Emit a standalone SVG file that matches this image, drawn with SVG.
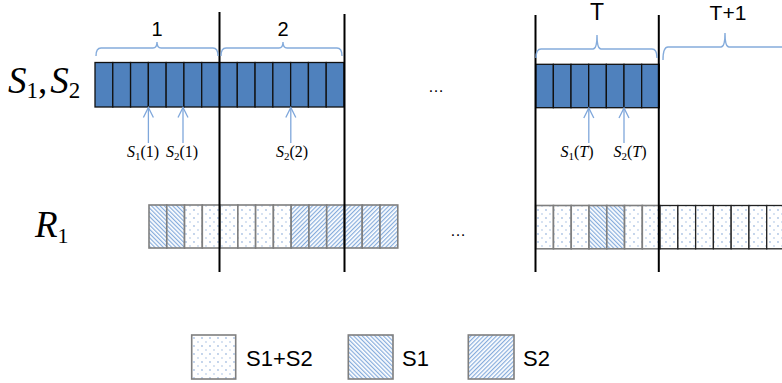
<svg xmlns="http://www.w3.org/2000/svg" width="782" height="383" viewBox="0 0 782 383">
<style>
.bg{fill:#ffffff}
.sc{fill:#4f81bd;stroke:#111;stroke-width:1.3}
.rc{stroke:#7f7f7f;stroke-width:1.6}
.rk{stroke:#222;stroke-width:1.3}
.dot{fill:url(#pDots)}
.s1{fill:url(#pS1)}
.s2{fill:url(#pS2)}
.vl{stroke:#000;stroke-width:2;fill:none}
.br{stroke:#85acdc;stroke-width:1.4;fill:none}
.ar{stroke:#7fa7db;stroke-width:1.3;fill:none;marker-end:url(#open)}
.num{font-family:"Liberation Sans",Arial,sans-serif;fill:#000;text-anchor:middle}
.math{font-family:"Liberation Serif","Times New Roman",serif;fill:#000}
.it{font-style:italic}
.leg{font-family:"Liberation Sans",Arial,sans-serif;font-size:22px;fill:#000}
.lb{stroke:#7f7f7f;stroke-width:1.6}
</style>
<defs>
<pattern id="pDots" patternUnits="userSpaceOnUse" width="8" height="8">
<rect width="8" height="8" fill="#fff"/>
<circle cx="2" cy="2" r="0.65" fill="#5b8ac8"/>
<circle cx="6" cy="6" r="0.65" fill="#8fb0dc"/>
</pattern>
<pattern id="pS1" patternUnits="userSpaceOnUse" width="3" height="3" patternTransform="rotate(-45)">
<rect width="3" height="3" fill="#fff"/>
<rect width="1.2" height="3" fill="#86acdc"/>
</pattern>
<pattern id="pS2" patternUnits="userSpaceOnUse" width="3" height="3" patternTransform="rotate(45)">
<rect width="3" height="3" fill="#fff"/>
<rect width="1.2" height="3" fill="#86acdc"/>
</pattern>
<marker id="open" markerUnits="userSpaceOnUse" markerWidth="12" markerHeight="12" refX="0" refY="0" orient="auto" overflow="visible">
<path d="M-10,-5 L0,0 L-10,5" fill="none" stroke="#7fa7db" stroke-width="1.3"/>
</marker>
</defs>
<rect class="bg" x="0" y="0" width="782" height="383"/>

<g id="s-bar-1-2">
<rect class="sc" x="95" y="62.5" width="17.79" height="44.5"/>
<rect class="sc" x="112.79" y="62.5" width="17.79" height="44.5"/>
<rect class="sc" x="130.57" y="62.5" width="17.79" height="44.5"/>
<rect class="sc" x="148.36" y="62.5" width="17.79" height="44.5"/>
<rect class="sc" x="166.14" y="62.5" width="17.79" height="44.5"/>
<rect class="sc" x="183.93" y="62.5" width="17.79" height="44.5"/>
<rect class="sc" x="201.71" y="62.5" width="17.79" height="44.5"/>
<rect class="sc" x="219.5" y="62.5" width="17.79" height="44.5"/>
<rect class="sc" x="237.29" y="62.5" width="17.79" height="44.5"/>
<rect class="sc" x="255.07" y="62.5" width="17.79" height="44.5"/>
<rect class="sc" x="272.86" y="62.5" width="17.79" height="44.5"/>
<rect class="sc" x="290.64" y="62.5" width="17.79" height="44.5"/>
<rect class="sc" x="308.43" y="62.5" width="17.79" height="44.5"/>
<rect class="sc" x="326.21" y="62.5" width="17.79" height="44.5"/>
</g>

<g id="s-bar-T">
<rect class="sc" x="535.7" y="64.3" width="17.66" height="43.4"/>
<rect class="sc" x="553.36" y="64.3" width="17.66" height="43.4"/>
<rect class="sc" x="571.02" y="64.3" width="17.66" height="43.4"/>
<rect class="sc" x="588.68" y="64.3" width="17.66" height="43.4"/>
<rect class="sc" x="606.34" y="64.3" width="17.66" height="43.4"/>
<rect class="sc" x="624" y="64.3" width="17.66" height="43.4"/>
<rect class="sc" x="641.66" y="64.3" width="17.66" height="43.4"/>
</g>

<g id="r-bar-left">
<rect class="rc s1" x="149" y="205" width="17.77" height="43"/>
<rect class="rc s1" x="166.77" y="205" width="17.77" height="43"/>
<rect class="rc dot" x="184.54" y="205" width="17.77" height="43"/>
<rect class="rc dot" x="202.31" y="205" width="17.77" height="43"/>
<rect class="rc dot" x="220.08" y="205" width="17.77" height="43"/>
<rect class="rc dot" x="237.85" y="205" width="17.77" height="43"/>
<rect class="rc dot" x="255.62" y="205" width="17.77" height="43"/>
<rect class="rc dot" x="273.39" y="205" width="17.77" height="43"/>
<rect class="rc s2" x="291.16" y="205" width="17.77" height="43"/>
<rect class="rc s2" x="308.93" y="205" width="17.77" height="43"/>
<rect class="rc s2" x="326.7" y="205" width="17.77" height="43"/>
<rect class="rc s2" x="344.47" y="205" width="17.77" height="43"/>
<rect class="rc s2" x="362.24" y="205" width="17.77" height="43"/>
<rect class="rc s2" x="380.01" y="205" width="17.77" height="43"/>
</g>

<g id="r-bar-right">
<rect class="rc dot" x="535.7" y="205.5" width="17.77" height="43.3"/>
<rect class="rc dot" x="553.47" y="205.5" width="17.77" height="43.3"/>
<rect class="rc dot" x="571.24" y="205.5" width="17.77" height="43.3"/>
<rect class="rc s1" x="589.01" y="205.5" width="17.77" height="43.3"/>
<rect class="rc s1" x="606.78" y="205.5" width="17.77" height="43.3"/>
<rect class="rc dot" x="624.55" y="205.5" width="17.77" height="43.3"/>
<rect class="rc dot" x="642.32" y="205.5" width="17.77" height="43.3"/>
<rect class="rk dot" x="660.09" y="205.5" width="17.77" height="43.3"/>
<rect class="rk dot" x="677.86" y="205.5" width="17.77" height="43.3"/>
<rect class="rk dot" x="695.63" y="205.5" width="17.77" height="43.3"/>
<rect class="rk dot" x="713.4" y="205.5" width="17.77" height="43.3"/>
<rect class="rk dot" x="731.17" y="205.5" width="17.77" height="43.3"/>
<rect class="rk dot" x="748.94" y="205.5" width="17.77" height="43.3"/>
<rect class="rk dot" x="766.71" y="205.5" width="17.77" height="43.3"/>
</g>

<g id="slot-boundaries">
<line class="vl" x1="219.5" y1="12" x2="219.5" y2="272"/>
<line class="vl" x1="344.5" y1="14" x2="344.5" y2="272"/>
<line class="vl" x1="535.5" y1="15" x2="535.5" y2="272"/>
<line class="vl" x1="658.8" y1="15" x2="658.8" y2="272"/>
</g>

<g id="braces">
<path class="br" d="M96,56 Q96,48 101,48 L153,48 Q157,48 157,42 Q157,48 161,48 L213,48 Q218,48 218,56"/>
<path class="br" d="M221,56 Q221,48 226,48 L279,48 Q283,48 283,42 Q283,48 287,48 L337,48 Q342,48 342,56"/>
<path class="br" d="M536,58 Q536,49 541,49 L593,49 Q597,49 597,35 Q597,49 601,49 L652,49 Q657,49 657,58"/>
<path class="br" d="M663,60 Q663,47 668,47 L721,47 Q725,47 725,33 Q725,47 729,47 L790,47"/>
</g>

<g id="slot-labels">
<text class="num" x="157" y="36" font-size="20">1</text>
<text class="num" x="283" y="36" font-size="20">2</text>
<text class="num" x="597" y="20" font-size="23">T</text>
<text class="num" x="728" y="20" font-size="21">T+1</text>
</g>

<g id="row-labels">
<text class="math" x="8" y="93" font-size="37"><tspan class="it">S</tspan><tspan font-size="23" dy="5">1</tspan><tspan dy="-5">,</tspan><tspan class="it" dx="3">S</tspan><tspan font-size="23" dy="5">2</tspan></text>
<text class="math" x="35" y="237" font-size="37"><tspan class="it">R</tspan><tspan font-size="22" dy="6">1</tspan></text>
</g>

<g id="connectors">
<line class="ar" x1="148.4" y1="143" x2="148.4" y2="107.5"/>
<line class="ar" x1="183" y1="143" x2="183" y2="107.5"/>
<line class="ar" x1="290.8" y1="143" x2="290.8" y2="107.5"/>
<line class="ar" x1="588.8" y1="143" x2="588.8" y2="108"/>
<line class="ar" x1="624" y1="143" x2="624" y2="108"/>
</g>

<g id="signal-labels">
<text class="math" x="143" y="157" font-size="16" text-anchor="middle"><tspan class="it">S</tspan><tspan font-size="11" dy="3">1</tspan><tspan dy="-3">(1)</tspan></text>
<text class="math" x="182" y="157" font-size="16" text-anchor="middle"><tspan class="it">S</tspan><tspan font-size="11" dy="3">2</tspan><tspan dy="-3">(1)</tspan></text>
<text class="math" x="292" y="157" font-size="16" text-anchor="middle"><tspan class="it">S</tspan><tspan font-size="11" dy="3">2</tspan><tspan dy="-3">(2)</tspan></text>
<text class="math" x="577" y="157" font-size="16" text-anchor="middle"><tspan class="it">S</tspan><tspan font-size="11" dy="3">1</tspan><tspan dy="-3">(</tspan><tspan class="it">T</tspan><tspan>)</tspan></text>
<text class="math" x="630" y="157" font-size="16" text-anchor="middle"><tspan class="it">S</tspan><tspan font-size="11" dy="3">2</tspan><tspan dy="-3">(</tspan><tspan class="it">T</tspan><tspan>)</tspan></text>
</g>

<g id="ellipses">
<text class="num" x="436" y="92" font-size="16">…</text>
<text class="num" x="458" y="236" font-size="16">…</text>
</g>

<g id="legend">
<g id="legend-s1s2">
<rect class="lb dot" x="191.7" y="335" width="44" height="44"/>
<text class="leg" x="246" y="366">S1+S2</text>
</g>
<g id="legend-s1">
<rect class="lb s1" x="348.3" y="335" width="44.7" height="44"/>
<text class="leg" x="402" y="366">S1</text>
</g>
<g id="legend-s2">
<rect class="lb s2" x="468.3" y="335" width="45.7" height="44"/>
<text class="leg" x="523" y="366">S2</text>
</g>
</g>
</svg>
